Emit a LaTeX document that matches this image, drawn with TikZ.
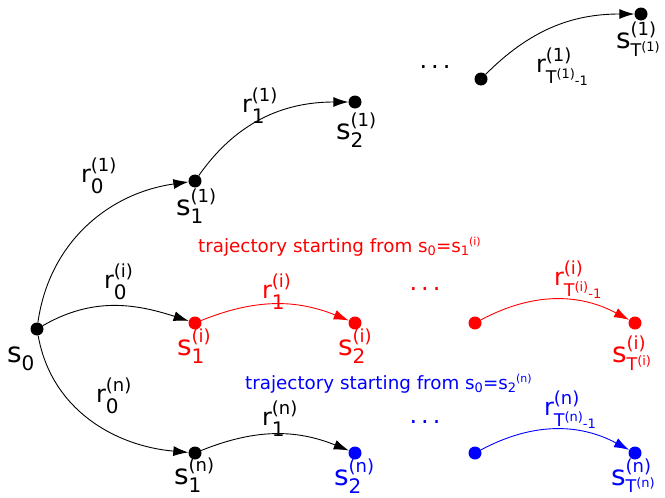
\documentclass[tikz,border=0pt]{standalone}
\usepackage{fontspec}
\setmainfont{DejaVu Sans}
\usetikzlibrary{arrows.meta}
\newcommand\fM{\fontsize{24}{26}\selectfont}
\newcommand\fSm{\fontsize{28}{30}\selectfont}
\newcommand\fsup{\fontsize{18}{20}\selectfont}
\newcommand\fsub{\fontsize{20}{22}\selectfont}
\newcommand\fT{\fontsize{17.5}{19}\selectfont}
\newcommand\fss{\fontsize{13}{15}\selectfont}
\newlength\lblw
% #1 main, #2 sup, #3 sub, #4 raise, #5 lower
\newcommand\SL[5]{#1\sbox0{\fsup #2}\sbox2{\fsub #3}%
  \ifdim\wd0>\wd2 \setlength\lblw{\wd0}\else\setlength\lblw{\wd2}\fi
  \rlap{\raisebox{#4}{\usebox0}}\rlap{\raisebox{-#5}{\usebox2}}\hspace{\lblw}}
\newcommand\Tsub[1]{{\fT T}\raisebox{5pt}{\fss(#1)}}
\newcommand\Tsubm[1]{{\fT T}\raisebox{5pt}{\fss(#1)}\raisebox{-2pt}{\fss-1}}
\tikzset{
  dot/.style={circle,fill=black,inner sep=0pt,minimum size=13pt},
  rdot/.style={dot,fill=red},
  bdot/.style={dot,fill=blue},
  arr/.style={line width=0.9pt,-{Latex[length=15pt,width=10pt]}},
  lbl/.style={anchor=base west,inner sep=0pt,outer sep=0pt},
  dots/.style={inner sep=0pt,font=\fontsize{24}{26}\selectfont},
  capt/.style={inner sep=0pt,font=\fontsize{18.3}{20}\selectfont}
}
\begin{document}
\begin{tikzpicture}[x=1pt,y=1pt]
\useasboundingbox (0,0) rectangle (665,-498);
% nodes
\node[dot] (s0) at (37,-329) {};
\node[dot] (a1) at (195,-181) {};
\node[dot] (a2) at (355,-102) {};
\node[dot] (a3) at (481,-79) {};
\node[dot] (a4) at (641,-14) {};
\node[rdot] (b1) at (195,-323) {};
\node[rdot] (b2) at (355,-323) {};
\node[rdot] (b3) at (475,-323) {};
\node[rdot] (b4) at (635,-323) {};
\node[dot] (c1) at (195,-453) {};
\node[bdot] (c2) at (355,-453) {};
\node[bdot] (c3) at (475,-453) {};
\node[bdot] (c4) at (635,-453) {};
% dots
\node[dots] (d1) at (435,-67) {.\hspace{4pt}.\hspace{4pt}.};
\node[dots,text=red] (d2) at (425,-289) {.\hspace{4pt}.\hspace{4pt}.};
\node[dots,text=blue] (d3) at (425,-422) {.\hspace{4pt}.\hspace{4pt}.};
% edges
\draw[arr] (s0) to[out=82,in=188] (a1);
\draw[arr] (a1) to[out=55,in=180] (a2);
\draw[arr] (a3) to[out=45,in=180] (a4);
\draw[arr] (s0) to[out=30,in=162] (b1);
\draw[arr,red] (b1) to[out=22,in=158] (b2);
\draw[arr,red] (b3) to[out=28,in=152] (b4);
\draw[arr] (s0) to[out=-80,in=175] (c1);
\draw[arr] (c1) to[out=22,in=158] (c2);
\draw[arr,blue] (c3) to[out=28,in=152] (c4);
% state labels
\node[lbl] (ls0) at (7,-362) {\fSm s\raisebox{-8pt}{\fsub 0}};
\node[lbl] (la1) at (176,-215) {\fSm\SL{s}{(1)}{1}{13pt}{8pt}};
\node[lbl] (la2) at (336,-139) {\fSm\SL{s}{(1)}{2}{13pt}{8pt}};
\node[lbl] (la4) at (616,-48) {\fSm\SL{s}{(1)}{\Tsub{1}}{13pt}{8pt}};
\node[lbl,text=red] (lb1) at (177,-355) {\fSm\SL{s}{(i)}{1}{13pt}{8pt}};
\node[lbl,text=red] (lb2) at (338,-355) {\fSm\SL{s}{(i)}{2}{13pt}{8pt}};
\node[lbl,text=red] (lb4) at (612,-362) {\fSm\SL{s}{(i)}{\Tsub{i}}{13pt}{8pt}};
\node[lbl] (lc1) at (174,-484) {\fSm\SL{s}{(n)}{1}{13pt}{8pt}};
\node[lbl,text=blue] (lc2) at (334,-485) {\fSm\SL{s}{(n)}{2}{13pt}{8pt}};
\node[lbl,text=blue] (lc4) at (611,-485) {\fSm\SL{s}{(n)}{\Tsub{n}}{13pt}{7pt}};
% reward labels
\node[lbl] (r01) at (81,-182) {\fM\SL{r}{(1)}{0}{11pt}{11pt}};
\node[lbl] (r11) at (242,-112) {\fM\SL{r}{(1)}{1}{11pt}{11pt}};
\node[lbl] (rT1) at (536,-72) {\fM\SL{r}{(1)}{\Tsubm{1}}{11pt}{11pt}};
\node[lbl] (r0i) at (104,-288) {\fM\SL{r}{(i)}{0}{11pt}{11pt}};
\node[lbl,text=red] (r1i) at (262,-298) {\fM\SL{r}{(i)}{1}{11pt}{11pt}};
\node[lbl,text=red] (rTi) at (554,-285) {\fM\SL{r}{(i)}{\Tsubm{i}}{11pt}{11pt}};
\node[lbl] (r0n) at (96,-402) {\fM\SL{r}{(n)}{0}{11pt}{11pt}};
\node[lbl] (r1n) at (262,-425) {\fM\SL{r}{(n)}{1}{11pt}{11pt}};
\node[lbl,text=blue] (rTn) at (544,-415) {\fM\SL{r}{(n)}{\Tsubm{n}}{11pt}{11pt}};
% captions
\node[capt,text=red,anchor=base west] (cap1) at (198,-252) {trajectory starting from s\raisebox{-3pt}{\fss 0}=s\raisebox{-3pt}{\fss 1}\raisebox{7pt}{\fontsize{11}{12}\selectfont(i)}};
\node[capt,text=blue,anchor=base west] (cap2) at (245,-389) {trajectory starting from s\raisebox{-3pt}{\fss 0}=s\raisebox{-3pt}{\fss 2}\raisebox{7pt}{\fontsize{11}{12}\selectfont(n)}};
\end{tikzpicture}
\end{document}
